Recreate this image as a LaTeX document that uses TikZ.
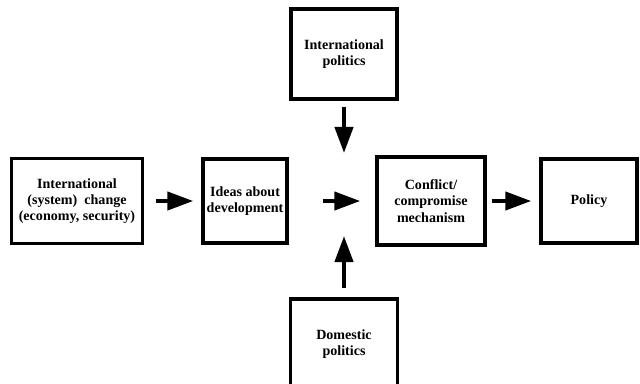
\documentclass[tikz,border=0pt]{standalone}
\usepackage{fontspec}
\setmainfont{Liberation Serif}
\usetikzlibrary{arrows.meta}

\begin{document}
\begin{tikzpicture}[x=0.025cm,y=-0.025cm,
    box/.style={draw,line width=2.4pt,align=center,inner sep=2pt,
      font=\fontsize{10}{11.5}\selectfont\bfseries},
    flow/.style={line width=3pt,-{Triangle[length=0.65cm,width=0.45cm]}}]
  \clip (0,0) rectangle (640,383);

  % Main row
  \node[box,minimum width=3.275cm,minimum height=2.125cm] (change) at (77,201) {International\\(system)\ \ change\\(economy, security)};
  \node[box,minimum width=2.1cm,minimum height=2.1cm] (ideas) at (245,201) {Ideas about\\development};
  \node[box,minimum width=2.7cm,minimum height=2.2cm] (conflict) at (431,201) {Conflict/\\compromise\\mechanism};
  \node[box,minimum width=2.4cm,minimum height=2.1cm] (policy) at (589,201) {Policy};

  % Political inputs
  \node[box,minimum width=2.65cm,minimum height=2.25cm] (intlpol) at (344,54) {International\\politics};
  \node[box,minimum width=2.675cm,minimum height=2.25cm] (dompol) at (344,344) {Domestic\\politics};
  \coordinate (hub) at (344,201);

  % Arrows
  \draw[flow,shorten <=0.3cm,shorten >=0.2cm] (change) -- (ideas);
  \draw[flow,shorten <=0.85cm,shorten >=0.375cm] (ideas) -- (conflict);
  \draw[flow,shorten <=0.125cm,shorten >=0.2cm] (conflict) -- (policy);
  \draw[flow,shorten <=0.15cm,shorten >=1.2cm] (intlpol) -- (hub);
  \draw[flow,shorten <=0.225cm,shorten >=0.875cm] (dompol) -- (hub);
\end{tikzpicture}
\end{document}
